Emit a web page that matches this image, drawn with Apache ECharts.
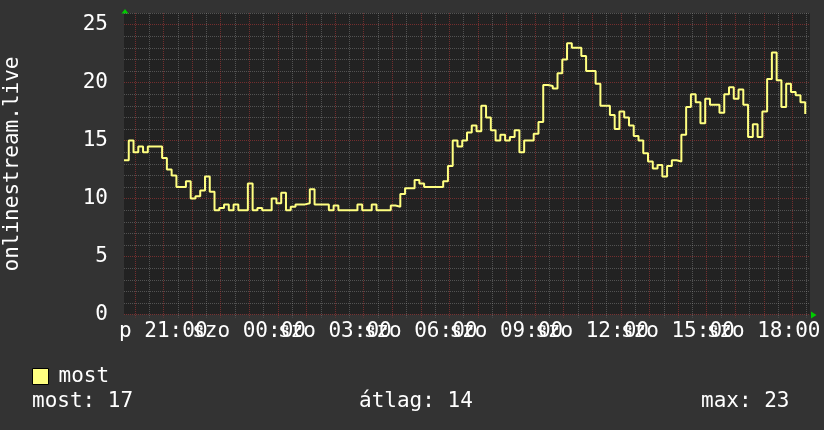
<!DOCTYPE html>
<html>
<head>
<meta charset="utf-8">
<script src="https://cdn.jsdelivr.net/npm/echarts@6/dist/echarts.min.js"></script>
<style>
html,body{margin:0;padding:0;background:#333333;}
#c{width:824px;height:430px;}
</style>
</head>
<body>
<div id="c"></div>
<script>
// ---------------- data ----------------
const seriesName = 'most';
const axisTitle = 'onlinestream.live';
const startHour = 19.625;      // first sample (Friday 19:37:30), hours
const spanHours = 24;
const stepHours = 1 / 6;       // 10-minute samples
const values = [
  13.3, 15, 14, 14.5, 14, 14.5, 14.5, 14.5, 13.5, 12.5, 12, 11,
  11, 11.5, 10, 10.2, 10.7, 11.9, 10.6, 9, 9.2, 9.5, 9, 9.5,
  9, 9, 11.3, 9, 9.2, 9, 9, 10, 9.6, 10.5, 9, 9.3,
  9.5, 9.5, 9.6, 10.8, 9.5, 9.5, 9.5, 9, 9.4, 9, 9, 9,
  9, 9.5, 9, 9, 9.5, 9, 9, 9, 9.4, 9.3, 10.4, 10.9,
  10.9, 11.6, 11.3, 11, 11, 11, 11, 11.5, 12.8, 15, 14.5, 15,
  15.7, 16.3, 15.8, 18, 17, 15.9, 15, 15.5, 15, 15.3, 15.9, 14,
  15, 15, 15.6, 16.6, 19.8, 19.7, 19.5, 20.8, 22, 23.4, 23, 23,
  22.3, 21, 21, 19.9, 18, 18, 17.2, 16, 17.5, 17, 16.3, 15.4,
  15, 13.9, 13.2, 12.6, 12.9, 11.9, 12.8, 13.3, 13.2, 15.5, 17.9, 19,
  18.3, 16.5, 18.6, 18.1, 18.1, 17.4, 19, 19.6, 18.6, 19.4, 18.1, 15.3,
  16.4, 15.3, 17.5, 20.3, 22.6, 20.2, 17.9, 19.9, 19.2, 18.9, 18.3, 17.3
];
const xLabelHours = [21, 24, 27, 30, 33, 36, 39, 42];
const xLabelTexts = ['p 21:00', 'szo 00:00', 'szo 03:00', 'szo 06:00', 'szo 09:00', 'szo 12:00', 'szo 15:00', 'szo 18:00'];
const yMax = 26;
const statNames = ['most', 'átlag', 'max'];
const statValues = [17, 14, 23];

// ---------------- styling ----------------
const FONT = '"DejaVu Sans Mono", monospace';
const FS = 21;
const BG = '#333333';
const CANVAS = '#222222';
const LINE = '#ffff80';
const MAJOR = 'rgba(170,55,55,0.6)';
const MINOR = 'rgba(150,150,150,0.42)';
const ARROW = '#00cc00';
const G = { left: 124, top: 13, width: 686, height: 301.6 };

const times = values.map((v, i) => startHour + i * stepHours);
const gridHours = [];
for (let h = Math.ceil(startHour * 2) / 2; h < startHour + spanHours; h += 0.5) gridHours.push(h);

const chart = echarts.init(document.getElementById('c'), null, { renderer: 'canvas' });

function gridRender(params, api) {
  const h = api.value(0);
  const x = Math.round(api.coord([h, 0])[0]) + 0.5;
  const cs = params.coordSys;
  const isHour = Math.abs(h - Math.round(h)) < 1e-6;
  return {
    type: 'line',
    silent: true,
    shape: { x1: x, y1: cs.y, x2: x, y2: cs.y + cs.height + 3 },
    style: { stroke: isHour ? MAJOR : MINOR, lineWidth: 1, lineDash: [1, 1] }
  };
}

function labelRender(params, api) {
  const h = api.value(0);
  const x = api.coord([h, 0])[0];
  const cs = params.coordSys;
  return {
    type: 'text',
    silent: true,
    x: x, y: cs.y + cs.height + 17,
    style: { text: xLabelTexts[params.dataIndex], fill: '#ffffff', font: FS + 'px ' + FONT,
             align: 'center', verticalAlign: 'middle', textAlign: 'center', textVerticalAlign: 'middle' }
  };
}

const textStyleBase = { fill: '#ffffff', font: FS + 'px ' + FONT };

const option = {
  backgroundColor: BG,
  animation: false,
  textStyle: { fontFamily: FONT },
  grid: { left: G.left, top: G.top, width: G.width, height: G.height, show: true, backgroundColor: CANVAS, borderWidth: 0 },
  xAxis: {
    type: 'value', min: startHour, max: startHour + spanHours,
    axisLine: { show: false }, axisTick: { show: false }, splitLine: { show: false },
    axisLabel: { show: false }
  },
  yAxis: {
    type: 'value', min: 0, max: yMax, interval: 1,
    axisLine: { show: false },
    axisTick: { show: false },
    splitLine: { show: true, lineStyle: { type: [1, 1], width: 1, color: [MAJOR, MINOR, MINOR, MINOR, MINOR] } },
    axisLabel: {
      formatter: v => (v % 5 === 0 && v < yMax) ? String(v) : '',
      color: '#ffffff', fontSize: FS, fontFamily: FONT, margin: 16
    }
  },
  legend: {
    data: [{ name: seriesName, icon: 'rect' }],
    left: 32, top: 366, padding: 0, itemGap: 0,
    itemWidth: 16, itemHeight: 16,
    itemStyle: { borderColor: '#000000', borderWidth: 1 },
    textStyle: { color: '#ffffff', fontSize: FS, fontFamily: FONT, lineHeight: 16, padding: [0, 0, 0, 5] },
    selectedMode: false
  },
  graphic: [
    { type: 'text', x: 13, y: 164, rotation: Math.PI / 2, silent: true,
      style: Object.assign({ text: axisTitle, align: 'center', verticalAlign: 'middle', textAlign: 'center', textVerticalAlign: 'middle' }, textStyleBase) },
    { type: 'text', x: 32, y: 402, silent: true,
      style: Object.assign({ text: statNames[0] + ': ' + statValues[0], align: 'left', verticalAlign: 'middle', textAlign: 'left', textVerticalAlign: 'middle' }, textStyleBase) },
    { type: 'text', x: 359, y: 402, silent: true,
      style: Object.assign({ text: statNames[1] + ': ' + statValues[1], align: 'left', verticalAlign: 'middle', textAlign: 'left', textVerticalAlign: 'middle' }, textStyleBase) },
    { type: 'text', x: 701, y: 402, silent: true,
      style: Object.assign({ text: statNames[2] + ': ' + statValues[2], align: 'left', verticalAlign: 'middle', textAlign: 'left', textVerticalAlign: 'middle' }, textStyleBase) },
    { type: 'polygon', silent: true,
      shape: { points: [[G.left + 1, G.top - 4], [G.left - 2.5, G.top + 0.5], [G.left + 4.5, G.top + 0.5]] },
      style: { fill: ARROW } },
    { type: 'polygon', silent: true,
      shape: { points: [[G.left + G.width + 6.5, G.top + G.height + 0.5], [G.left + G.width + 1, G.top + G.height - 3], [G.left + G.width + 1, G.top + G.height + 4]] },
      style: { fill: ARROW } }
  ],
  series: [
    {
      type: 'custom', name: 'grid', silent: true, z: 1,
      renderItem: gridRender,
      data: gridHours.map(h => [h, 0]),
      encode: { x: 0, y: 1 },
      tooltip: { show: false }
    },
    {
      type: 'custom', name: 'xlabels', silent: true, z: 1, clip: false,
      renderItem: labelRender,
      data: xLabelHours.map(h => [h, 0]),
      encode: { x: 0, y: 1 },
      tooltip: { show: false }
    },
    {
      type: 'line', name: seriesName, z: 5,
      data: times.map((t, i) => [t, values[i]]),
      step: 'end', showSymbol: false, symbol: 'none',
      lineStyle: { color: LINE, width: 2 },
      itemStyle: { color: LINE }
    }
  ]
};
chart.setOption(option);
</script>
</body>
</html>
